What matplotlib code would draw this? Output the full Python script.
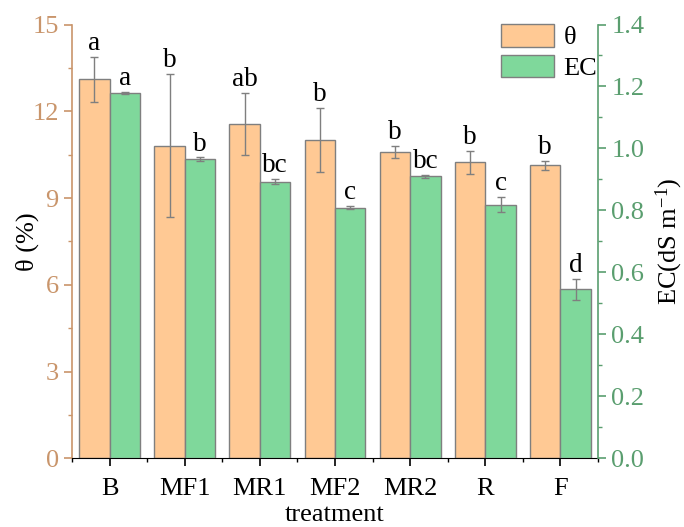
import numpy as np
import matplotlib.pyplot as plt
from matplotlib.ticker import MultipleLocator, FixedLocator

plt.rcParams["font.family"] = ["Liberation Serif", "DejaVu Serif"]
plt.rcParams["mathtext.fontset"] = "custom"
plt.rcParams["mathtext.rm"] = "Liberation Serif"
plt.rcParams["mathtext.it"] = "Liberation Serif:italic"

# ── Data ─────────────────────────────────────────────────────────────────────
treatments = ["B", "MF1", "MR1", "MF2", "MR2", "R", "F"]

theta      = [13.10, 10.81, 11.55, 11.00, 10.60, 10.24, 10.13]   # %
theta_err  = [0.78, 2.48, 1.07, 1.10, 0.20, 0.40, 0.15]
theta_sig  = ["a", "b", "ab", "b", "b", "b", "b"]

ec         = [1.178, 0.965, 0.893, 0.809, 0.911, 0.818, 0.546]   # dS m-1
ec_err     = [0.003, 0.006, 0.008, 0.004, 0.005, 0.024, 0.034]
ec_sig     = ["a", "b", "bc", "c", "bc", "c", "d"]

# ── Style ────────────────────────────────────────────────────────────────────
C_THETA = "#FFC994"
C_EC = "#7FD89B"
C_LEFT = "#C9956B"
C_RIGHT = "#5A9E6F"
EDGE = "#7F7F7F"
FS = 19
FS_SIG = 19.5
BAR_W = 0.405

fig = plt.figure(figsize=(6.84, 5.27), dpi=100)
ax = fig.add_axes([0.1053, 0.1302, 0.7690, 0.8233])
ax2 = ax.twinx()

x = np.arange(len(treatments))
x_t = x - BAR_W / 2
x_e = x + BAR_W / 2

err_kw = dict(ecolor=EDGE, elinewidth=1.0, capsize=3, capthick=1.0)
b1 = ax.bar(x_t, theta, BAR_W, yerr=theta_err, color=C_THETA,
            edgecolor=EDGE, linewidth=1.0, error_kw=err_kw, label="θ", zorder=2)
b2 = ax2.bar(x_e, ec, BAR_W, yerr=ec_err, color=C_EC,
             edgecolor=EDGE, linewidth=1.0, error_kw=err_kw, label="EC", zorder=2)

# significance letters above each error bar
for xi, v, e, s in zip(x_t, theta, theta_err, theta_sig):
    ax.annotate(s, (xi, v + e), xytext=(0, 5), textcoords="offset points",
                ha="center", va="baseline", fontsize=FS_SIG)
for xi, v, e, s in zip(x_e, ec, ec_err, ec_sig):
    ax2.annotate(s, (xi, v + e), xytext=(0, 5), textcoords="offset points",
                 ha="center", va="baseline", fontsize=FS_SIG)

# ── Axes ─────────────────────────────────────────────────────────────────────
ax.set_xlim(-0.5, len(treatments) - 0.5)
ax.set_ylim(0, 15)
ax2.set_ylim(0, 1.4)

ax.set_xticks(x)
ax.set_xticklabels(treatments, fontsize=FS)
ax.xaxis.set_minor_locator(FixedLocator(np.arange(-0.5, len(treatments), 1.0)))
ax.set_xlabel("treatment", fontsize=FS, labelpad=3)

ax.yaxis.set_major_locator(MultipleLocator(3))
ax.yaxis.set_minor_locator(MultipleLocator(1.5))
ax2.yaxis.set_major_locator(MultipleLocator(0.2))
ax2.yaxis.set_minor_locator(MultipleLocator(0.1))
ax2.yaxis.set_major_formatter(plt.FormatStrFormatter("%.1f"))

ax.set_ylabel("θ (%)", fontsize=FS)
ax.yaxis.set_label_coords(-0.062, 0.5)
ax2.set_ylabel("EC(dS m$^{-1}$)", fontsize=FS)
ax2.yaxis.set_label_coords(1.105, 0.5)

for a in (ax, ax2):
    a.spines["top"].set_visible(False)
ax.spines["right"].set_visible(False)
ax.spines["left"].set_color(C_LEFT)
ax.spines["left"].set_linewidth(1.2)
ax2.spines["right"].set_color(C_RIGHT)
ax2.spines["right"].set_linewidth(1.2)
ax2.spines["left"].set_visible(False)
ax2.spines["bottom"].set_visible(False)

ax.tick_params(axis="y", which="both", colors=C_LEFT, labelsize=FS, direction="out")
ax.tick_params(axis="y", which="major", length=6, width=1.2)
ax.tick_params(axis="y", which="minor", length=3, width=1.0)
ax2.tick_params(axis="y", which="both", colors=C_RIGHT, labelsize=FS, direction="out")
ax2.tick_params(axis="y", which="major", length=6, width=1.2)
ax2.tick_params(axis="y", which="minor", length=3, width=1.0)
ax.tick_params(axis="x", which="major", length=6, width=1.2, pad=8)
ax.tick_params(axis="x", which="minor", length=3, width=1.0)

ax.legend([b1, b2], ["θ", "EC"], loc="upper left", bbox_to_anchor=(0.796, 1.026),
          frameon=False, fontsize=FS, handlelength=2.0, handleheight=0.95,
          handletextpad=0.35, labelspacing=0.2, borderaxespad=0)

fig.savefig("out.png", dpi=100)
